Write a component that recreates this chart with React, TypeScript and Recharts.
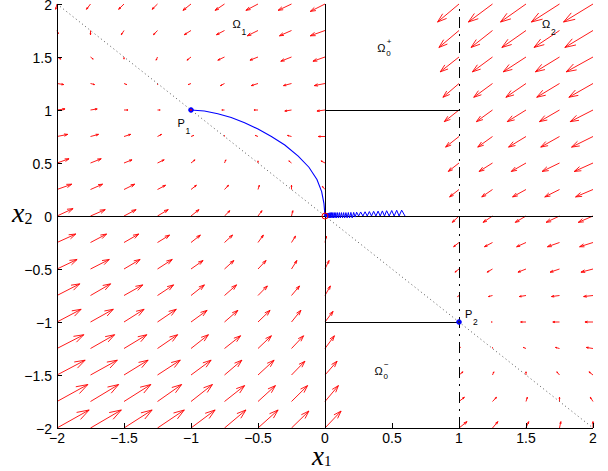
import React from 'react';
import { ScatterChart, Scatter, XAxis, YAxis, ReferenceLine, ReferenceDot } from 'recharts';

// ---- quiver grid ----
const rowsX2 = [2, 1.75, 1.5, 1.25, 1, 0.75, 0.5, 0.25, 0, -0.25, -0.5, -0.75, -1, -1.25, -1.5, -1.75, -2];
const colsOmega1 = [-2, -1.75, -1.5, -1.25, -1, -0.75, -0.5, -0.25, 0];
const colsOmega2 = [1, 1.25, 1.5, 1.75, 2];

// displayed arrow components (data units), region Omega_1 (rows x cols)
const uOmega1 = [
  [-0.01, -0.03, -0.04, -0.04, -0.06, -0.07, -0.09, -0.10, -0.11],
  [0.01, 0.00, -0.02, -0.03, -0.05, -0.06, -0.08, -0.09, -0.11],
  [0.03, 0.02, 0.00, -0.01, -0.03, -0.05, -0.06, -0.08, -0.09],
  [0.05, 0.03, 0.02, 0.00, -0.02, -0.03, -0.05, -0.06, -0.08],
  [0.06, 0.05, 0.03, 0.02, 0.00, -0.02, -0.03, -0.05, -0.06],
  [0.08, 0.06, 0.05, 0.03, 0.02, 0.00, -0.02, -0.03, -0.05],
  [0.09, 0.08, 0.06, 0.05, 0.03, 0.01, 0.00, -0.02, -0.03],
  [0.11, 0.09, 0.08, 0.06, 0.04, 0.03, 0.01, 0.00, -0.02],
  [0.12, 0.11, 0.09, 0.08, 0.06, 0.04, 0.03, 0.01, 0.00],
  [0.14, 0.12, 0.11, 0.09, 0.07, 0.06, 0.04, 0.03, 0.01],
  [0.15, 0.14, 0.12, 0.11, 0.09, 0.07, 0.06, 0.04, 0.03],
  [0.17, 0.15, 0.14, 0.12, 0.10, 0.09, 0.07, 0.06, 0.04],
  [0.18, 0.17, 0.15, 0.14, 0.12, 0.10, 0.09, 0.07, 0.06],
  [0.20, 0.18, 0.17, 0.15, 0.13, 0.12, 0.10, 0.09, 0.07],
  [0.21, 0.20, 0.18, 0.17, 0.15, 0.13, 0.12, 0.10, 0.09],
  [0.23, 0.21, 0.20, 0.18, 0.16, 0.15, 0.13, 0.12, 0.10],
  [0.24, 0.23, 0.21, 0.20, 0.18, 0.16, 0.15, 0.13, 0.12],
];
const vOmega1 = [
  [-0.05, -0.05, -0.05, -0.05, -0.06, -0.06, -0.06, -0.06, -0.07],
  [-0.03, -0.04, -0.04, -0.04, -0.04, -0.04, -0.05, -0.05, -0.05],
  [-0.02, -0.02, -0.02, -0.03, -0.03, -0.03, -0.03, -0.04, -0.04],
  [-0.01, -0.01, -0.01, -0.01, -0.01, -0.02, -0.02, -0.02, -0.02],
  [0.01, 0.01, 0.00, 0.00, 0.00, 0.00, 0.00, -0.01, -0.01],
  [0.02, 0.02, 0.02, 0.02, 0.01, 0.01, 0.01, 0.01, 0.00],
  [0.04, 0.04, 0.03, 0.03, 0.03, 0.03, 0.02, 0.02, 0.02],
  [0.05, 0.05, 0.05, 0.04, 0.04, 0.04, 0.04, 0.04, 0.03],
  [0.07, 0.06, 0.06, 0.06, 0.06, 0.05, 0.05, 0.05, 0.05],
  [0.08, 0.08, 0.08, 0.07, 0.07, 0.07, 0.07, 0.06, 0.06],
  [0.09, 0.09, 0.09, 0.09, 0.08, 0.08, 0.08, 0.08, 0.08],
  [0.11, 0.11, 0.10, 0.10, 0.10, 0.10, 0.09, 0.09, 0.09],
  [0.12, 0.12, 0.12, 0.12, 0.11, 0.11, 0.11, 0.11, 0.10],
  [0.13, 0.13, 0.13, 0.13, 0.13, 0.12, 0.12, 0.12, 0.12],
  [0.14, 0.14, 0.14, 0.14, 0.14, 0.14, 0.14, 0.13, 0.13],
  [0.16, 0.16, 0.16, 0.16, 0.16, 0.15, 0.15, 0.15, 0.15],
  [0.17, 0.17, 0.17, 0.17, 0.17, 0.17, 0.17, 0.16, 0.16],
];
// region Omega_2
const uOmega2 = [
  [-0.16, -0.18, -0.19, -0.21, -0.22],
  [-0.15, -0.16, -0.18, -0.19, -0.21],
  [-0.14, -0.15, -0.17, -0.18, -0.20],
  [-0.12, -0.14, -0.15, -0.17, -0.18],
  [-0.11, -0.12, -0.14, -0.15, -0.17],
  [-0.10, -0.11, -0.13, -0.14, -0.16],
  [-0.08, -0.10, -0.11, -0.13, -0.14],
  [-0.07, -0.08, -0.10, -0.11, -0.13],
  [-0.05, -0.07, -0.08, -0.10, -0.11],
  [-0.04, -0.06, -0.07, -0.09, -0.10],
  [-0.03, -0.04, -0.06, -0.07, -0.09],
  [-0.01, -0.03, -0.05, -0.06, -0.07],
  [0.00, -0.01, -0.04, -0.05, -0.06],
  [0.01, 0.00, -0.02, -0.03, -0.05],
  [0.03, 0.01, 0.00, -0.02, -0.03],
  [0.04, 0.03, 0.01, 0.00, -0.02],
  [0.06, 0.04, 0.02, 0.01, 0.00],
];
const vOmega2 = [
  [-0.17, -0.17, -0.17, -0.17, -0.17],
  [-0.16, -0.16, -0.16, -0.16, -0.16],
  [-0.14, -0.14, -0.14, -0.14, -0.14],
  [-0.13, -0.13, -0.13, -0.13, -0.13],
  [-0.11, -0.11, -0.11, -0.11, -0.11],
  [-0.10, -0.10, -0.10, -0.10, -0.10],
  [-0.08, -0.08, -0.08, -0.08, -0.08],
  [-0.07, -0.07, -0.07, -0.07, -0.07],
  [-0.06, -0.06, -0.06, -0.06, -0.06],
  [-0.04, -0.04, -0.04, -0.04, -0.04],
  [-0.03, -0.03, -0.03, -0.03, -0.03],
  [-0.01, -0.01, -0.01, -0.01, -0.01],
  [0.00, 0.00, 0.00, 0.00, 0.00],
  [0.01, 0.01, 0.01, 0.01, 0.01],
  [0.03, 0.03, 0.03, 0.03, 0.03],
  [0.04, 0.04, 0.04, 0.04, 0.04],
  [0.06, 0.06, 0.06, 0.06, 0.06],
];

// ---- trajectory from P1 to the origin ----
const curveX = [-1, -0.9, -0.8, -0.7, -0.6, -0.5, -0.4, -0.3, -0.2, -0.12, -0.06, -0.025, -0.008, 0];
const curveY = [1, 0.99, 0.965, 0.93, 0.88, 0.82, 0.75, 0.67, 0.565, 0.46, 0.345, 0.23, 0.12, 0];

// ---- chattering along the x1 axis ----
const zigX = [0.597, 0.572, 0.553, 0.535, 0.516, 0.498, 0.479, 0.46, 0.444, 0.428, 0.412, 0.396, 0.38, 0.363, 0.347, 0.331,
  0.315, 0.299, 0.283, 0.266, 0.251, 0.236, 0.225, 0.214, 0.203, 0.193, 0.183, 0.174, 0.165, 0.156, 0.147, 0.139, 0.131,
  0.123, 0.115, 0.108, 0.101, 0.094, 0.087, 0.081, 0.075, 0.069, 0.063, 0.058, 0.053, 0.048, 0.043, 0.039, 0.035, 0.031,
  0.027, 0.024, 0.021, 0.018, 0.015, 0.012, 0.009, 0.007, 0.005, 0.003, 0];
const zigY = [0, 0.055, 0, 0.054, 0, 0.052, 0, 0.05, 0, 0.048, 0, 0.046, 0, 0.044, 0, 0.042, 0, 0.04, 0, 0.038, 0, 0.036,
  -0.01, 0.034, -0.018, 0.034, -0.018, 0.033, -0.018, 0.032, -0.018, 0.032, -0.018, 0.032, -0.018, 0.032, -0.018, 0.032,
  -0.018, 0.032, -0.018, 0.032, -0.018, 0.032, -0.018, 0.032, -0.018, 0.032, -0.018, 0.03, -0.016, 0.028, -0.015, 0.026,
  -0.012, 0.024, -0.01, 0.02, -0.008, 0.015, 0];

const axisTicks = [-2, -1.5, -1, -0.5, 0, 0.5, 1, 1.5, 2];
const pointP1 = { x: -1, y: 1 };
const pointP2 = { x: 1, y: -1 };

const regionLabels = [
  { x: -0.69, y: 1.77, sub: '1', sup: '' },
  { x: 0.39, y: 1.55, sub: '0', sup: '+' },
  { x: 1.62, y: 1.77, sub: '2', sup: '' },
  { x: 0.37, y: -1.5, sub: '0', sup: '\u2212' },
];
const pointLabels = [
  { x: -1.1, y: 0.84, sub: '1' },
  { x: 1.045, y: -0.96, sub: '2' },
];

// ---- build tables ----
const arrows: { x: number; y: number; u: number; v: number }[] = [];
rowsX2.forEach((y, i) => {
  colsOmega1.forEach((x, j) => arrows.push({ x, y, u: uOmega1[i][j], v: vOmega1[i][j] }));
  colsOmega2.forEach((x, j) => arrows.push({ x, y, u: uOmega2[i][j], v: vOmega2[i][j] }));
});
const curveData = curveX.map((x, i) => ({ x, y: curveY[i] }));
const zigData = zigX.map((x, i) => ({ x, y: zigY[i] ?? 0 }));

const SANS = 'Liberation Sans, Arial, Helvetica, sans-serif';
const SERIF = 'Liberation Serif, Times New Roman, serif';
const fmt = (v: number) => (v < 0 ? '\u2212' + String(Math.abs(v)) : String(v));

const ArrowShape = (p: any) => {
  const { x1, y1, x2, y2 } = p;
  if (![x1, y1, x2, y2].every((n) => Number.isFinite(n))) return <g />;
  const du = x2 - x1;
  const dv = y2 - y1;
  if (Math.hypot(du, dv) < 0.6) return <g />;
  const a = 0.33;
  const b = 0.33;
  const hx1 = x2 - a * (du + b * dv);
  const hy1 = y2 - a * (dv - b * du);
  const hx2 = x2 - a * (du - b * dv);
  const hy2 = y2 - a * (dv + b * du);
  return (
    <g>
      <line x1={x1} y1={y1} x2={x2} y2={y2} stroke="#ff0000" strokeWidth={0.9} />
      <polyline points={`${hx1},${hy1} ${x2},${y2} ${hx2},${hy2}`} fill="none" stroke="#ff0000" strokeWidth={0.9} />
    </g>
  );
};

const BottomTick = (p: any) => {
  const { x, y, payload } = p;
  return (
    <g>
      <line x1={x} x2={x} y1={y - 5} y2={y - 10} stroke="#000" strokeWidth={1} shapeRendering="crispEdges" />
      <text x={x} y={y} dy="0.72em" textAnchor="middle" fontSize={14} fontFamily={SANS} fill="#000">
        {fmt(payload.value)}
      </text>
    </g>
  );
};

const LeftTick = (p: any) => {
  const { x, y, payload } = p;
  return (
    <g>
      <line x1={x + 5} x2={x + 10} y1={y} y2={y} stroke="#000" strokeWidth={1} shapeRendering="crispEdges" />
      <text x={x} y={y} dy="0.45em" textAnchor="end" fontSize={14} fontFamily={SANS} fill="#000">
        {fmt(payload.value)}
      </text>
    </g>
  );
};

const EmptyShape = () => <g />;

const RegionLabel = (sub: string, sup: string) => (p: any) => {
  const { cx, cy } = p;
  return (
    <g fontFamily={SANS} fill="#000">
      <text x={cx} y={cy} fontSize={11}>
        {'\u03A9'}
      </text>
      {sup ? (
        <>
          <text x={cx + 9} y={cy + 4} fontSize={8}>{sub}</text>
          <text x={cx + 9.5} y={cy - 8} fontSize={8}>{sup}</text>
        </>
      ) : (
        <text x={cx + 9} y={cy + 7} fontSize={8.5}>{sub}</text>
      )}
    </g>
  );
};

const PointLabel = (sub: string) => (p: any) => {
  const { cx, cy } = p;
  return (
    <g fontFamily={SANS} fill="#000">
      <text x={cx} y={cy} fontSize={11}>P</text>
      <text x={cx + 8} y={cy + 7} fontSize={8.5}>{sub}</text>
    </g>
  );
};

const XLabel = (props: any) => {
  const vb = props.viewBox || { x: 57, y: 428, width: 536, height: 43 };
  return (
    <text x={vb.x + vb.width / 2 - 13} y={vb.y + 37} fontFamily={SERIF} fontStyle="italic" fontSize={27} fill="#000">
      x<tspan fontStyle="normal" fontSize={15} dy={1}>1</tspan>
    </text>
  );
};

const YLabel = (props: any) => {
  const vb = props.viewBox || { x: 0, y: 4, width: 57, height: 424 };
  return (
    <text x={vb.x + 12} y={vb.y + vb.height / 2 + 6} fontFamily={SERIF} fontStyle="italic" fontSize={28} fill="#000">
      x<tspan fontStyle="normal" fontSize={16} dy={2}>2</tspan>
    </text>
  );
};

const blackLine = { stroke: '#000', strokeWidth: 1, shapeRendering: 'crispEdges' } as any;

export default function App() {
  return (
    <div style={{ position: 'absolute', left: 0, top: 0, background: '#fff' }}>
      <ScatterChart width={608} height={471} margin={{ top: 4, right: 15, bottom: 0, left: 0 }}>
        <XAxis
          type="number"
          dataKey="x"
          domain={[-2, 2]}
          ticks={axisTicks}
          allowDataOverflow
          interval={0}
          height={43}
          tickLine={false}
          tickSize={0}
          tickMargin={5}
          axisLine={blackLine}
          tick={(p: any) => <BottomTick {...p} />}
          label={{ content: (p: any) => <XLabel {...p} /> }}
        />
        <YAxis
          type="number"
          dataKey="y"
          domain={[-2, 2]}
          ticks={axisTicks}
          allowDataOverflow
          interval={0}
          width={57}
          tickLine={false}
          tickSize={0}
          tickMargin={5}
          axisLine={blackLine}
          tick={(p: any) => <LeftTick {...p} />}
          label={{ content: (p: any) => <YLabel {...p} /> }}
        />

        {arrows.map((a, i) => (
          <ReferenceLine
            key={'ar' + i}
            segment={[{ x: a.x, y: a.y }, { x: a.x + a.u, y: a.y + a.v }]}
            ifOverflow="visible"
            shape={ArrowShape}
          />
        ))}

        <ReferenceLine segment={[{ x: -2, y: 2 }, { x: 2, y: -2 }]} stroke="#555" strokeWidth={1} strokeDasharray="1 3" ifOverflow="visible" />
        <ReferenceLine x={0} {...blackLine} />
        <ReferenceLine y={0} {...blackLine} />
        <ReferenceLine segment={[{ x: 0, y: 1 }, { x: 1, y: 1 }]} {...blackLine} />
        <ReferenceLine segment={[{ x: 0, y: -1 }, { x: 1, y: -1 }]} {...blackLine} />
        <ReferenceLine x={1} {...blackLine} strokeDasharray="11 6 2 6" />

        <Scatter data={curveData} line={{ stroke: '#0000ff', strokeWidth: 1.1 }} lineType="joint" shape={EmptyShape} isAnimationActive={false} />
        <Scatter data={zigData} line={{ stroke: '#0000ff', strokeWidth: 1 }} lineType="joint" shape={EmptyShape} isAnimationActive={false} />

        <ReferenceDot x={pointP1.x} y={pointP1.y} r={2.3} fill="#0000ff" stroke="#0000ff" ifOverflow="visible" />
        <ReferenceDot x={pointP1.x} y={pointP1.y} r={0.9} fill="#ff0000" stroke="none" ifOverflow="visible" />
        <ReferenceDot x={pointP2.x} y={pointP2.y} r={2.3} fill="#0000ff" stroke="#0000ff" ifOverflow="visible" />
        <ReferenceDot x={pointP2.x} y={pointP2.y} r={0.9} fill="#222" stroke="none" ifOverflow="visible" />
        <ReferenceDot x={0} y={0} r={3} fill="none" stroke="#ff0000" strokeWidth={1} ifOverflow="visible" />

        {regionLabels.map((l, i) => (
          <ReferenceDot key={'rl' + i} x={l.x} y={l.y} r={0} ifOverflow="visible" shape={RegionLabel(l.sub, l.sup)} />
        ))}
        {pointLabels.map((l, i) => (
          <ReferenceDot key={'pl' + i} x={l.x} y={l.y} r={0} ifOverflow="visible" shape={PointLabel(l.sub)} />
        ))}
      </ScatterChart>
    </div>
  );
}
